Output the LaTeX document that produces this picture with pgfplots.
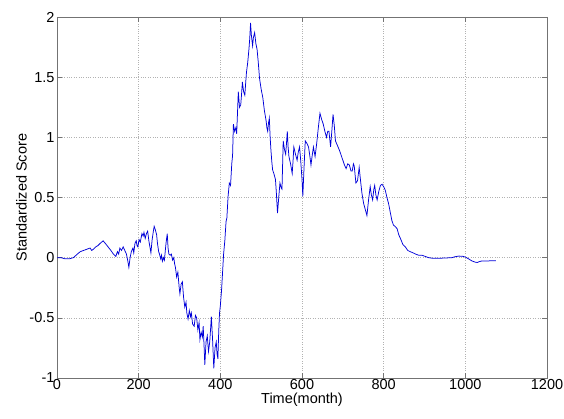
\documentclass[border=0pt]{standalone}
\usepackage{fontspec}
\setmainfont{Liberation Sans}
\usepackage{pgfplots}
\pgfplotsset{compat=1.18}
\usetikzlibrary{calc}

\pgfplotstableread{
x y
0 0
10 0.0
20 -0.01
30 -0.01
40 0.0
50 0.03
57 0.05
65 0.06
73 0.07
81 0.08
85 0.06
89 0.07
95 0.09
100 0.10
106 0.12
113 0.14
118 0.12
125 0.09
132 0.06
138 0.03
144 0.01
148 0.05
151 0.03
154 0.08
158 0.06
162 0.09
166 0.06
170 0.03
173 -0.02
176 -0.08
179 0.0
182 0.05
186 0.08
188 0.04
191 0.12
194 0.14
196 0.10
198 0.09
201 0.15
204 0.13
208 0.20
211 0.18
213 0.21
216 0.16
219 0.20
222 0.22
225 0.14
228 0.08
230 0.04
233 0.15
236 0.22
238 0.26
241 0.23
244 0.19
246 0.12
249 0.05
251 0.03
254 -0.01
256 0.02
258 -0.03
261 0.0
263 -0.02
265 0.05
267 0.12
270 0.20
272 0.08
274 0.03
277 0.02
280 0.03
283 -0.02
286 0.0
288 -0.05
290 -0.08
293 -0.16
296 -0.12
299 -0.24
301 -0.30
304 -0.22
307 -0.20
310 -0.33
313 -0.41
316 -0.37
318 -0.46
321 -0.51
324 -0.44
327 -0.49
329 -0.46
332 -0.55
336 -0.57
339 -0.48
342 -0.50
345 -0.60
348 -0.54
350 -0.68
353 -0.62
356 -0.66
358 -0.57
360 -0.72
362 -0.89
365 -0.70
368 -0.65
371 -0.78
374 -0.70
376 -0.60
378 -0.49
381 -0.68
384 -0.92
387 -0.75
390 -0.70
392 -0.80
394 -0.84
396 -0.62
398 -0.46
400 -0.40
403 -0.27
405 -0.15
408 0.03
411 0.14
414 0.30
416 0.33
419 0.51
422 0.62
425 0.60
428 0.78
430 0.85
432 1.11
435 1.05
438 1.08
440 1.03
442 1.20
444 1.38
447 1.25
450 1.27
452 1.36
454 1.46
457 1.38
460 1.35
462 1.45
464 1.54
467 1.62
470 1.73
472 1.82
474 1.95
476 1.85
479 1.76
481 1.83
484 1.87
487 1.78
490 1.73
493 1.62
496 1.49
500 1.40
504 1.33
508 1.22
512 1.14
514 1.08
516 1.05
518 1.12
520 1.16
522 1.00
524 0.89
526 0.80
528 0.73
531 0.70
535 0.65
537 0.55
540 0.37
543 0.50
546 0.62
549 0.58
551 0.57
554 0.97
557 0.90
560 0.86
562 0.95
564 1.05
566 0.92
568 0.84
572 0.78
576 0.70
578 0.80
580 0.92
584 0.86
588 0.81
591 0.88
594 0.92
597 0.80
600 0.65
602 0.51
605 0.75
608 0.97
612 0.95
616 0.92
619 0.85
622 0.77
625 0.85
628 0.92
632 0.84
636 0.95
640 1.08
644 1.20
648 1.15
652 1.11
656 1.05
660 1.00
663 1.05
666 1.05
670 0.92
673 1.05
676 1.19
679 1.10
682 0.97
687 0.93
692 0.89
696 0.85
700 0.81
704 0.77
708 0.74
712 0.78
716 0.77
720 0.72
723 0.72
726 0.78
728 0.76
732 0.62
736 0.64
740 0.75
744 0.62
747 0.53
751 0.45
755 0.40
759 0.35
763 0.48
767 0.59
770 0.52
773 0.48
776 0.57
778 0.60
781 0.52
784 0.48
788 0.55
792 0.60
796 0.61
800 0.59
804 0.56
808 0.50
812 0.45
816 0.38
820 0.31
824 0.27
828 0.26
833 0.24
837 0.19
841 0.16
847 0.11
853 0.09
859 0.06
865 0.05
872 0.04
878 0.03
886 0.02
894 0.02
902 0.01
910 0.0
920 -0.005
935 -0.005
950 -0.003
967 0.0
975 0.008
984 0.013
993 0.012
1000 0.005
1008 -0.01
1016 -0.027
1024 -0.037
1029 -0.04
1035 -0.032
1041 -0.027
1055 -0.027
1065 -0.026
1075 -0.026
}\scoredata

\begin{document}
\begin{tikzpicture}
\begin{axis}[
  scale only axis,
  width=490bp, height=361bp,
  xmin=0, xmax=1200, ymin=-1, ymax=2,
  xtick={0,200,...,1200},
  ytick={-1,-0.5,0,0.5,1,1.5,2},
  yticklabels={-1,-0.5,0,0.5,1,1.5,2},
  xticklabels={0,200,400,600,800,1000,1200},
  tick align=inside,
  tick pos=both,
  major tick length=5bp,
  axis line style={black!55, line width=0.7bp},
  tick style={black!55, line width=0.6bp},
  grid=major,
  grid style={dotted, black!30, line width=0.5bp},
  tick label style={font=\fontsize{14.5bp}{17bp}\selectfont},
  label style={font=\fontsize{14.5bp}{17bp}\selectfont},
  xlabel={Time(month)},
  ylabel={Standardized Score},
  xlabel style={inner sep=0pt, yshift=-1bp},
  ylabel style={yshift=-4bp},
  xticklabel style={inner sep=1.5bp},
  yticklabel style={xshift=1bp},
]
\addplot[blue!85!black, line width=0.75bp] table[x=x, y=y] {\scoredata};
\end{axis}
\pgfresetboundingbox
\path[use as bounding box] ($(current axis.south west)+(-57bp,-41bp)$) rectangle ($(current axis.north east)+(17bp,17bp)$);
\end{tikzpicture}
\end{document}
